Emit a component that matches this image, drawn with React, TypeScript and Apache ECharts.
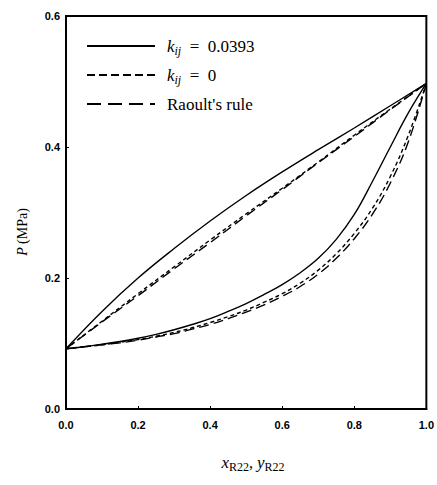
import React, { useEffect, useRef } from "react";
import * as echarts from "echarts";

// Liquid-phase (bubble) compositions and pressures, MPa
const xBubble = [0, 0.1, 0.2, 0.3, 0.4, 0.5, 0.6, 0.7, 0.8, 0.9, 1.0];
const pBubbleKij = [0.092, 0.149, 0.2, 0.245, 0.287, 0.326, 0.362, 0.396, 0.429, 0.463, 0.497];
const pBubbleKij0 = [0.092, 0.134, 0.176, 0.217, 0.258, 0.298, 0.337, 0.377, 0.418, 0.458, 0.497];
const pBubbleRaoult = [0.092, 0.133, 0.173, 0.214, 0.254, 0.295, 0.335, 0.376, 0.416, 0.457, 0.497];

// Vapour-phase (dew) compositions and pressures, MPa
const xDew = [
  0, 0.05, 0.1, 0.15, 0.2, 0.25, 0.3, 0.35, 0.4, 0.45, 0.5,
  0.55, 0.6, 0.65, 0.7, 0.75, 0.8, 0.85, 0.9, 0.95, 1.0,
];
const pDewKij = [
  0.092, 0.095, 0.099, 0.103, 0.108, 0.114, 0.121, 0.129, 0.138, 0.149, 0.161,
  0.175, 0.19, 0.208, 0.23, 0.259, 0.297, 0.347, 0.4, 0.452, 0.497,
];
const pDewKij0 = [
  0.092, 0.095, 0.098, 0.102, 0.106, 0.111, 0.117, 0.124, 0.132, 0.141, 0.151,
  0.163, 0.176, 0.192, 0.212, 0.237, 0.268, 0.306, 0.355, 0.418, 0.497,
];
const pDewRaoult = [
  0.092, 0.095, 0.098, 0.101, 0.105, 0.11, 0.115, 0.122, 0.129, 0.138, 0.148,
  0.159, 0.172, 0.187, 0.206, 0.23, 0.26, 0.297, 0.345, 0.408, 0.497,
];

const xTicks = ["0.0", "0.2", "0.4", "0.6", "0.8", "1.0"];
const yTicks = ["0.0", "0.2", "0.4", "0.6"];

const legendNames = ["0.0393", "0", "Raoult's rule"];

const pairs = (xs: number[], ys: number[]) => xs.map((x, i) => [x, ys[i]]);

const SOLID: any = "solid";
const SHORT = [4, 3];
const LONG = [10, 5];

export default function App() {
  const ref = useRef<HTMLDivElement>(null);

  useEffect(() => {
    if (!ref.current) return;
    const chart = echarts.init(ref.current, undefined, { renderer: "svg" });

    const mk = (name: string, data: number[][], type: any) => ({
      name,
      type: "line",
      data,
      smooth: 0.4,
      showSymbol: false,
      symbol: "none",
      lineStyle: { color: "#000", width: 1.4, type },
      z: 3,
    });

    const legendY = [46, 75, 104];
    const legendDash = [null, [8, 4], [14, 7]];
    const legendGraphics: any[] = [];
    legendY.forEach((y, i) => {
      legendGraphics.push({
        type: "line",
        shape: { x1: 87, y1: y, x2: 155, y2: y },
        style: { stroke: "#000", lineWidth: 2, lineDash: legendDash[i] },
      });
      const txt =
        i < 2
          ? `{k|k}{s|ij}{t|  =  ${legendNames[i]}}`
          : `{t|${legendNames[i]}}`;
      legendGraphics.push({
        type: "text",
        x: 167,
        y,
        style: {
          text: txt,
          verticalAlign: "middle",
          align: "left",
          fill: "#000",
          rich: {
            k: { fontFamily: "Liberation Serif", fontStyle: "italic", fontSize: 17, fill: "#000" },
            s: {
              fontFamily: "Liberation Serif",
              fontStyle: "italic",
              fontSize: 12,
              fill: "#000",
              padding: [10, 0, 0, 0],
            },
            t: { fontFamily: "Liberation Serif", fontSize: 17, fill: "#000" },
          },
        },
      });
    });

    chart.setOption({
      animation: false,
      backgroundColor: "#fff",
      grid: {
        left: 66,
        right: 9,
        top: 16,
        bottom: 76,
        show: true,
        borderColor: "#000",
        borderWidth: 2,
      },
      xAxis: {
        type: "value",
        min: 0,
        max: 1,
        interval: 0.2,
        axisLine: { show: true, lineStyle: { color: "#000", width: 2 } },
        axisTick: { show: true, inside: true, length: 3, lineStyle: { color: "#000" } },
        splitLine: { show: false },
        axisLabel: {
          margin: 10,
          color: "#000",
          fontFamily: "Liberation Sans",
          fontWeight: "bold",
          fontSize: 11,
          showMaxLabel: true,
          formatter: (v: number) => xTicks[Math.round(v / 0.2)] ?? "",
        },
      },
      yAxis: {
        type: "value",
        min: 0,
        max: 0.6,
        interval: 0.2,
        axisLine: { show: true, lineStyle: { color: "#000", width: 2 } },
        axisTick: { show: true, inside: true, length: 3, lineStyle: { color: "#000" } },
        splitLine: { show: false },
        axisLabel: {
          margin: 6,
          color: "#000",
          fontFamily: "Liberation Sans",
          fontWeight: "bold",
          fontSize: 11,
          formatter: (v: number) => yTicks[Math.round(v / 0.2)] ?? "",
        },
      },
      graphic: [
        ...legendGraphics,
        {
          type: "text",
          x: 22,
          y: 232,
          rotation: Math.PI / 2,
          style: {
            text: "{i|P} {t|(MPa)}",
            align: "center",
            verticalAlign: "middle",
            rich: {
              i: { fontFamily: "Liberation Serif", fontStyle: "italic", fontSize: 14, fill: "#000" },
              t: { fontFamily: "Liberation Serif", fontSize: 14, fill: "#000" },
            },
          },
        },
        {
          type: "text",
          x: 253,
          y: 462,
          style: {
            text: "{i|x}{s|R22}{t|, }{i|y}{s|R22}",
            align: "center",
            verticalAlign: "middle",
            rich: {
              i: { fontFamily: "Liberation Serif", fontStyle: "italic", fontSize: 17, fill: "#000" },
              s: { fontFamily: "Liberation Serif", fontSize: 12, fill: "#000", padding: [9, 0, 0, 0] },
              t: { fontFamily: "Liberation Serif", fontSize: 16, fill: "#000" },
            },
          },
        },
      ],
      series: [
        mk("kij=0.0393 bubble", pairs(xBubble, pBubbleKij), SOLID),
        mk("kij=0.0393 dew", pairs(xDew, pDewKij), SOLID),
        mk("kij=0 bubble", pairs(xBubble, pBubbleKij0), SHORT),
        mk("kij=0 dew", pairs(xDew, pDewKij0), SHORT),
        mk("Raoult bubble", pairs(xBubble, pBubbleRaoult), LONG),
        mk("Raoult dew", pairs(xDew, pDewRaoult), LONG),
      ],
    });

    return () => chart.dispose();
  }, []);

  return (
    <div
      ref={ref}
      style={{ position: "fixed", left: 0, top: 0, width: 437, height: 485 }}
    />
  );
}
